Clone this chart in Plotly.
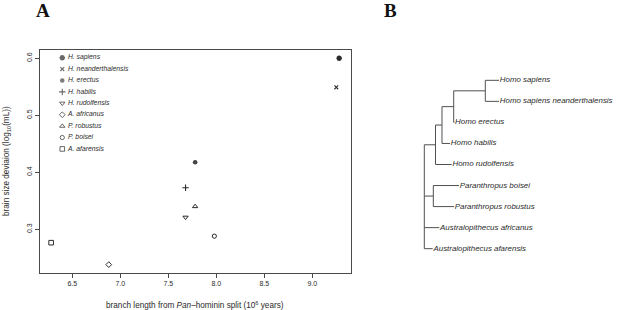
import plotly.graph_objects as go

# ---------------- Panel A data ----------------
species = ["H. sapiens", "H. neanderthalensis", "H. erectus", "H. habilis",
           "H. rudolfensis", "A. africanus", "P. robustus", "P. boisei", "A. afarensis"]
branch_length = [9.28, 9.25, 7.78, 7.68, 7.68, 6.88, 7.78, 7.98, 6.28]
brain_dev = [0.600, 0.549, 0.4175, 0.373, 0.321, 0.238, 0.340, 0.288, 0.2765]
symbols = ["asterisk-open", "x-thin-open", "circle", "cross-thin-open",
           "triangle-down-open", "diamond-open", "triangle-up-open", "circle-open", "square-open"]
sizes = [4.6, 3.8, 4.6, 4.6, 4.6, 4.4, 4.6, 4.2, 4.6]
line_w = [1.6, 1.1, 0, 1.1, 1, 1, 1, 1, 1]

x_ticks = [6.5, 7.0, 7.5, 8.0, 8.5, 9.0]
y_ticks = [0.3, 0.4, 0.5, 0.6]

# ---------------- Panel B data (tree) ----------------
tip_order = ["Homo sapiens", "Homo sapiens neanderthalensis", "Homo erectus", "Homo habilis",
             "Homo rudolfensis", "Paranthropus boisei", "Paranthropus robustus",
             "Australopithecus africanus", "Australopithecus afarensis"]
tree_children = {
    "root": ["homo", "paranthropus", "Australopithecus africanus", "Australopithecus afarensis"],
    "homo": ["n3", "Homo rudolfensis"],
    "n3": ["n4", "Homo habilis"],
    "n4": ["n5", "Homo erectus"],
    "n5": ["Homo sapiens", "Homo sapiens neanderthalensis"],
    "paranthropus": ["Paranthropus boisei", "Paranthropus robustus"],
}
node_depth = {
    "root": 0.0, "homo": 11.2, "n3": 17.7, "n4": 29.4, "n5": 61.0, "paranthropus": 9.0,
    "Homo sapiens": 74.7, "Homo sapiens neanderthalensis": 74.7, "Homo erectus": 30.0,
    "Homo habilis": 25.7, "Homo rudolfensis": 27.4, "Paranthropus boisei": 34.7,
    "Paranthropus robustus": 29.7, "Australopithecus africanus": 15.0,
    "Australopithecus afarensis": 8.4,
}

W, H = 617, 310
INK = "#2a2a2a"
LINE = "#4a4a4a"

fig = go.Figure()

# data points
for i, sp in enumerate(species):
    filled = symbols[i] == "circle"
    fig.add_trace(go.Scatter(
        x=[branch_length[i]], y=[brain_dev[i]], mode="markers",
        marker=dict(symbol=symbols[i], size=sizes[i],
                    color="#444" if filled else INK,
                    line=dict(color=INK, width=line_w[i])),
        xaxis="x", yaxis="y", hoverinfo="skip", showlegend=False, cliponaxis=False))

# in-plot legend (rows in data units of panel A)
leg_x_marker = 6.396
leg_x_text = 6.455
leg_y0 = 0.601
leg_step = 0.0200
leg_y = [leg_y0 - leg_step * i for i in range(len(species))]
fig.add_trace(go.Scatter(
    x=[leg_x_marker] * len(species), y=leg_y, mode="markers",
    marker=dict(symbol=symbols, size=sizes,
                color=["#444" if s == "circle" else INK for s in symbols],
                line=dict(color=INK, width=line_w)),
    xaxis="x", yaxis="y", hoverinfo="skip", showlegend=False, cliponaxis=False))
fig.add_trace(go.Scatter(
    x=[leg_x_text] * len(species), y=leg_y, mode="text", text=species,
    textposition="middle right", marker=dict(size=0),
    textfont=dict(family="Liberation Sans", size=6.8, color=INK, style="italic"),
    xaxis="x", yaxis="y", hoverinfo="skip", showlegend=False, cliponaxis=False))

# tree geometry from the topology
tip_y = {t: i for i, t in enumerate(tip_order)}
node_y = {}


def get_y(n):
    if n in tip_y:
        return tip_y[n]
    if n not in node_y:
        ys = [get_y(c) for c in tree_children[n]]
        node_y[n] = (min(ys) + max(ys)) / 2
    return node_y[n]


seg_x, seg_y = [], []
for parent, kids in tree_children.items():
    ky = [get_y(c) for c in kids]
    px = node_depth[parent]
    seg_x += [px, px, None]
    seg_y += [min(ky), max(ky), None]
    for c in kids:
        seg_x += [px, node_depth[c], None]
        seg_y += [get_y(c), get_y(c), None]

fig.add_trace(go.Scatter(x=seg_x, y=seg_y, mode="lines",
                         line=dict(color="#505050", width=1),
                         xaxis="x2", yaxis="y2", hoverinfo="skip", showlegend=False,
                         cliponaxis=False))
fig.add_trace(go.Scatter(
    x=[node_depth[t] + 0.8 for t in tip_order], y=[tip_y[t] for t in tip_order],
    mode="text", text=tip_order, textposition="middle right", marker=dict(size=0),
    textfont=dict(family="Liberation Sans", size=7.9, color=INK, style="italic"),
    xaxis="x2", yaxis="y2", hoverinfo="skip", showlegend=False, cliponaxis=False))

# ---------------- layout ----------------
ax_common = dict(showgrid=False, zeroline=False, showline=True, mirror=True,
                 linecolor=LINE, linewidth=1, ticks="outside", ticklen=4,
                 tickcolor=LINE, tickwidth=1,
                 tickfont=dict(family="Liberation Sans", size=7, color=INK))

fig.update_layout(
    width=W, height=H, margin=dict(l=0, r=0, t=0, b=0),
    paper_bgcolor="white", plot_bgcolor="white", showlegend=False,
    xaxis=dict(domain=[40 / W, 350.5 / W], range=[6.164, 9.398],
               tickvals=x_ticks, ticktext=[f"{v:.1f}" for v in x_ticks],
               anchor="y", **ax_common),
    yaxis=dict(domain=[(H - 272.5) / H, (H - 49.5) / H], range=[0.2242, 0.6154],
               tickvals=y_ticks, ticktext=[f"{v:.1f}" for v in y_ticks],
               tickangle=-90, anchor="x", **ax_common),
    xaxis2=dict(domain=[414.3 / W, 1.0], range=[-10, 192.7], visible=False, anchor="y2"),
    yaxis2=dict(domain=[(H - 259.2) / H, (H - 69.8) / H], range=[8.5, -0.5],
                visible=False, anchor="x2"),
    annotations=[
        dict(text="<b>A</b>", x=42.5 / W, y=1 - 10.5 / H, xref="paper", yref="paper",
             showarrow=False, xanchor="center", yanchor="middle",
             font=dict(family="Liberation Serif", size=19, color="#111")),
        dict(text="<b>B</b>", x=390 / W, y=1 - 10.5 / H, xref="paper", yref="paper",
             showarrow=False, xanchor="center", yanchor="middle",
             font=dict(family="Liberation Serif", size=19, color="#111")),
        dict(text="branch length from <i>Pan</i>\u2013hominin split (10<sup>6</sup> years)",
             x=195.25 / W, y=(H - 305) / H, xref="paper", yref="paper",
             showarrow=False, xanchor="center", yanchor="middle",
             font=dict(family="Liberation Sans", size=8.2, color=INK)),
        dict(text="brain size deviaion (log<sub>10</sub>(mL))",
             x=7 / W, y=(H - 161) / H, xref="paper", yref="paper", textangle=-90,
             showarrow=False, xanchor="center", yanchor="middle",
             font=dict(family="Liberation Sans", size=8.2, color=INK)),
    ],
)

fig.write_html("out.html", config={"displayModeBar": False, "staticPlot": True},
               post_script="document.body.style.margin='0';document.body.style.overflow='hidden';")
